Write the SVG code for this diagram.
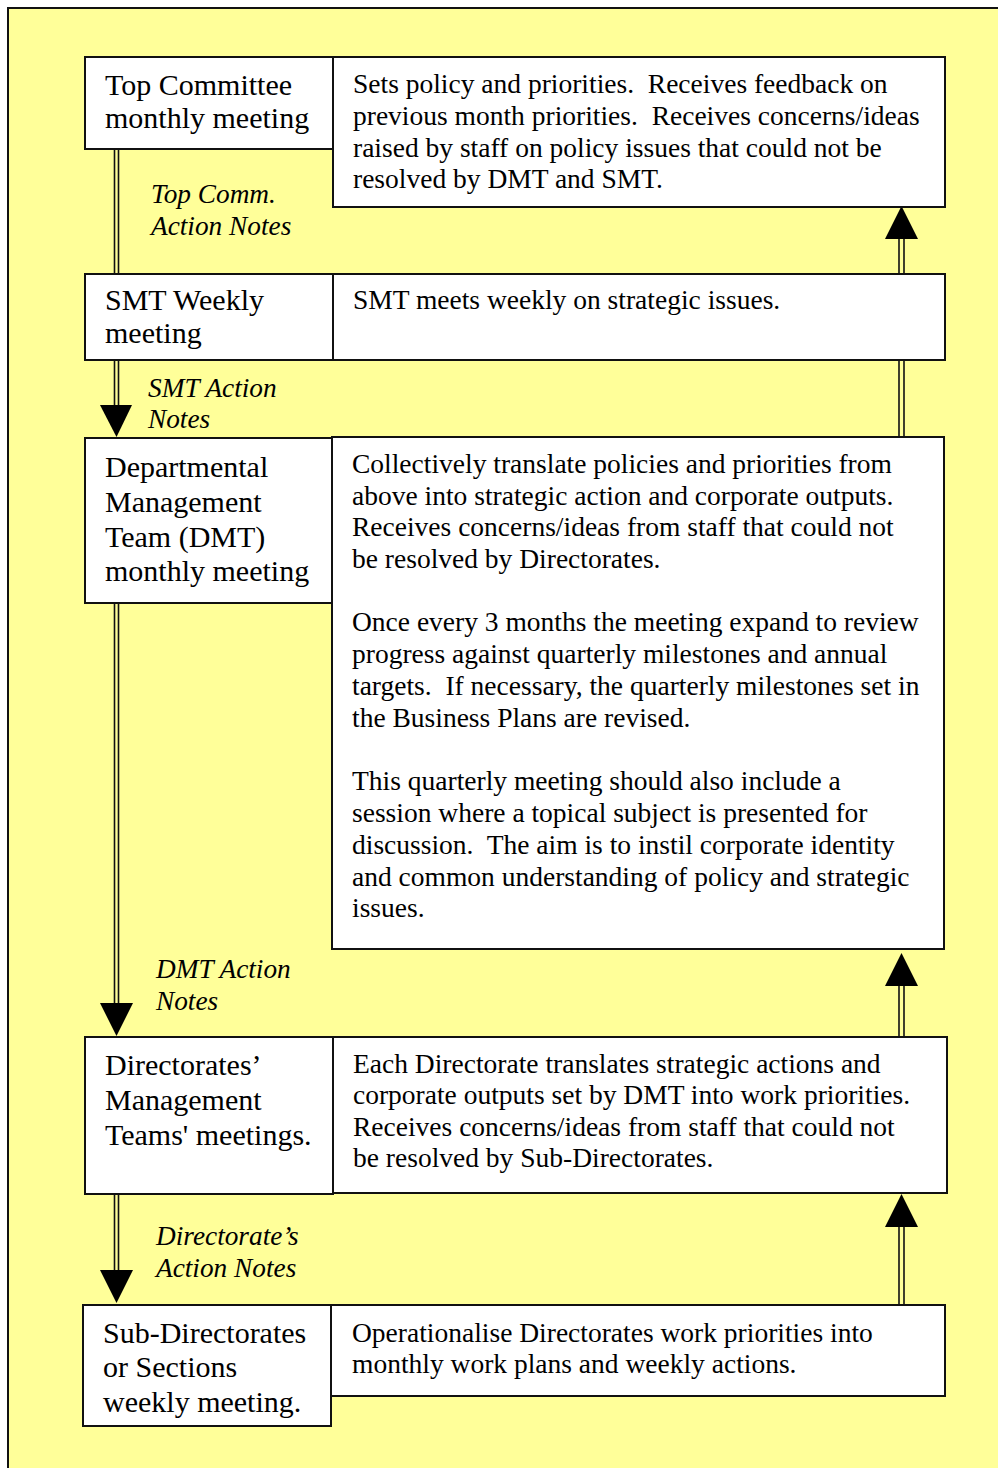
<svg xmlns="http://www.w3.org/2000/svg" width="998" height="1468" viewBox="0 0 998 1468" xml:space="preserve">
  <defs>
    <style>
      .bg { fill: #ffff99; stroke: #111; stroke-width: 2; }
      .box { fill: #fff; stroke: #111; stroke-width: 2; }
      .rail { stroke: #111; stroke-width: 1.6; fill: none; }
      .head { fill: #000; }
      text { white-space: pre; }
      .lt { font-family: "Liberation Serif", "Times New Roman", serif; font-size: 30px; fill: #000; }
      .rt { font-family: "Liberation Serif", "Times New Roman", serif; font-size: 27.5px; fill: #000; }
      .note { font-family: "Liberation Serif", "Times New Roman", serif; font-size: 27.3px; font-style: italic; fill: #000; }
    </style>
    <clipPath id="smtNoteClip"><rect x="140" y="365" width="200" height="66"/></clipPath>
    <clipPath id="subClip"><rect x="84" y="1306" width="246" height="112"/></clipPath>
  </defs>

  <!-- page background -->
  <rect class="bg" x="8" y="8" width="1000" height="1470"/>

  <!-- connectors: double rails with solid heads -->
  <g id="connectors">
    <!-- left side, downward -->
    <path class="rail" d="M114.5 149 V274 M118.5 149 V274"/>
    <path class="rail" d="M114.5 360 V406 M118.5 360 V406"/>
    <polygon class="head" points="100,405 132,405 116.5,437"/>
    <path class="rail" d="M114.5 603 V1004 M118.5 603 V1004"/>
    <polygon class="head" points="100,1003 133,1003 116.5,1036"/>
    <path class="rail" d="M114.5 1194 V1271 M118.5 1194 V1271"/>
    <polygon class="head" points="100,1270 133,1270 116.5,1303"/>
    <!-- right side, upward -->
    <path class="rail" d="M899 238 V274 M904 238 V274"/>
    <polygon class="head" points="885,239 918,239 901.5,206"/>
    <path class="rail" d="M899 360 V437 M904 360 V437"/>
    <path class="rail" d="M899 985 V1037 M904 985 V1037"/>
    <polygon class="head" points="885,986 918,986 901.5,953"/>
    <path class="rail" d="M899 1226 V1305 M904 1226 V1305"/>
    <polygon class="head" points="885,1227 918,1227 901.5,1194"/>
  </g>

  <!-- connector labels -->
  <g id="labels">
    <text class="note" x="151" y="203">Top Comm.</text>
    <text class="note" x="151" y="235">Action Notes</text>
    <g clip-path="url(#smtNoteClip)">
      <text class="note" x="148" y="397">SMT Action</text>
      <text class="note" x="148" y="428">Notes</text>
    </g>
    <text class="note" x="156" y="978">DMT Action</text>
    <text class="note" x="156" y="1010">Notes</text>
    <text class="note" x="156" y="1245">Directorate’s</text>
    <text class="note" x="156" y="1277">Action Notes</text>
  </g>

  <g id="top-committee">
    <rect class="box" x="85" y="57" width="248" height="92"/>
    <text class="lt" x="105" y="95">Top Committee</text>
    <text class="lt" x="105" y="128">monthly meeting</text>
  </g>
  <g id="top-committee-desc">
    <rect class="box" x="333" y="57" width="612" height="150"/>
    <text class="rt" x="353" y="93">Sets policy and priorities.  Receives feedback on</text>
    <text class="rt" x="353" y="125">previous month priorities.  Receives concerns/ideas</text>
    <text class="rt" x="353" y="157">raised by staff on policy issues that could not be</text>
    <text class="rt" x="353" y="188">resolved by DMT and SMT.</text>
  </g>

  <g id="smt">
    <rect class="box" x="85" y="274" width="248" height="86"/>
    <text class="lt" x="105" y="310">SMT Weekly</text>
    <text class="lt" x="105" y="343">meeting</text>
  </g>
  <g id="smt-desc">
    <rect class="box" x="333" y="274" width="612" height="86"/>
    <text class="rt" x="353" y="309">SMT meets weekly on strategic issues.</text>
  </g>

  <g id="dmt">
    <rect class="box" x="85" y="438" width="247" height="165"/>
    <text class="lt" x="105" y="477">Departmental</text>
    <text class="lt" x="105" y="512">Management</text>
    <text class="lt" x="105" y="547">Team (DMT)</text>
    <text class="lt" x="105" y="581">monthly meeting</text>
  </g>
  <g id="dmt-desc">
    <rect class="box" x="332" y="437" width="612" height="512"/>
    <text class="rt" x="352" y="473">Collectively translate policies and priorities from</text>
    <text class="rt" x="352" y="505">above into strategic action and corporate outputs.</text>
    <text class="rt" x="352" y="536">Receives concerns/ideas from staff that could not</text>
    <text class="rt" x="352" y="568">be resolved by Directorates.</text>
    <text class="rt" x="352" y="631">Once every 3 months the meeting expand to review</text>
    <text class="rt" x="352" y="663">progress against quarterly milestones and annual</text>
    <text class="rt" x="352" y="695">targets.  If necessary, the quarterly milestones set in</text>
    <text class="rt" x="352" y="727">the Business Plans are revised.</text>
    <text class="rt" x="352" y="790">This quarterly meeting should also include a</text>
    <text class="rt" x="352" y="822">session where a topical subject is presented for</text>
    <text class="rt" x="352" y="854">discussion.  The aim is to instil corporate identity</text>
    <text class="rt" x="352" y="886">and common understanding of policy and strategic</text>
    <text class="rt" x="352" y="917">issues.</text>
  </g>

  <g id="directorates">
    <rect class="box" x="85" y="1037" width="248" height="157"/>
    <text class="lt" x="105" y="1075">Directorates’</text>
    <text class="lt" x="105" y="1110">Management</text>
    <text class="lt" x="105" y="1145">Teams' meetings.</text>
  </g>
  <g id="directorates-desc">
    <rect class="box" x="333" y="1037" width="614" height="156"/>
    <text class="rt" x="353" y="1073">Each Directorate translates strategic actions and</text>
    <text class="rt" x="353" y="1104">corporate outputs set by DMT into work priorities.</text>
    <text class="rt" x="353" y="1136">Receives concerns/ideas from staff that could not</text>
    <text class="rt" x="353" y="1167">be resolved by Sub-Directorates.</text>
  </g>

  <g id="sub-directorates">
    <rect class="box" x="83" y="1305" width="248" height="121"/>
    <g clip-path="url(#subClip)">
      <text class="lt" x="103" y="1343">Sub-Directorates</text>
      <text class="lt" x="103" y="1377">or Sections</text>
      <text class="lt" x="103" y="1412">weekly meeting.</text>
    </g>
  </g>
  <g id="sub-directorates-desc">
    <rect class="box" x="331" y="1305" width="614" height="91"/>
    <text class="rt" x="352" y="1342">Operationalise Directorates work priorities into</text>
    <text class="rt" x="352" y="1373">monthly work plans and weekly actions.</text>
  </g>
</svg>
